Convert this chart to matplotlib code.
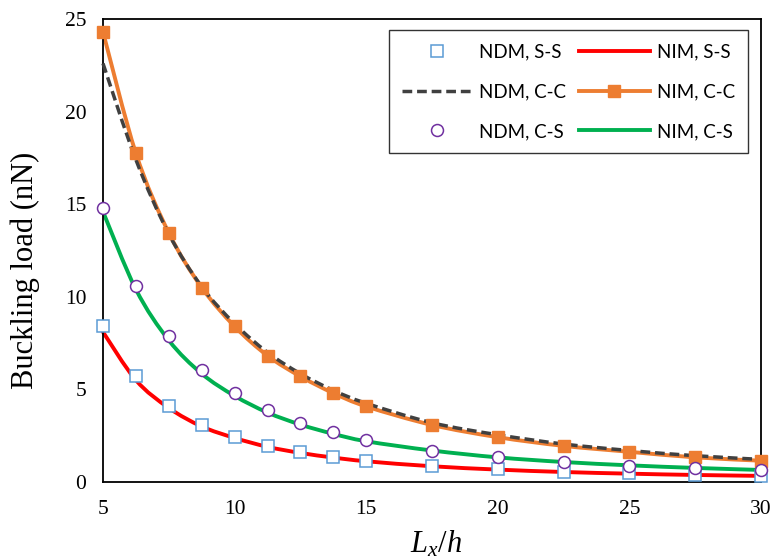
import numpy as np
import matplotlib
matplotlib.use("Agg")
import matplotlib.pyplot as plt
from matplotlib.path import Path
from matplotlib.patches import PathPatch
from matplotlib.lines import Line2D

plt.rcParams['mathtext.fontset'] = 'custom'
plt.rcParams['mathtext.it'] = 'Liberation Serif:italic'
plt.rcParams['mathtext.rm'] = 'Liberation Serif'

# ---- data ----
lx_h = [5, 6.25, 7.5, 8.75, 10, 11.25, 12.5, 13.75, 15, 17.5, 20, 22.5, 25, 27.5, 30]
ndm_ss = [8.4, 5.75, 4.12, 3.1, 2.44, 1.93, 1.6, 1.33, 1.13, 0.86, 0.69, 0.56, 0.46, 0.38, 0.34]
nim_ss = [8.1, 5.5, 4.0, 3.0, 2.38, 1.9, 1.57, 1.32, 1.12, 0.85, 0.67, 0.54, 0.45, 0.38, 0.33]
ndm_cc = [22.6, 17.4, 13.4, 10.55, 8.55, 7.0, 5.85, 4.95, 4.25, 3.2, 2.55, 2.05, 1.7, 1.42, 1.22]
nim_cc = [24.3, 17.75, 13.45, 10.5, 8.4, 6.82, 5.7, 4.8, 4.08, 3.08, 2.42, 1.95, 1.63, 1.33, 1.15]
ndm_cs = [14.8, 10.6, 7.9, 6.05, 4.8, 3.88, 3.2, 2.68, 2.28, 1.7, 1.33, 1.1, 0.87, 0.75, 0.63]
nim_cs = [14.6, 10.4, 7.65, 5.85, 4.65, 3.75, 3.1, 2.6, 2.2, 1.7, 1.33, 1.08, 0.9, 0.76, 0.65]
x_ticks = [5, 10, 15, 20, 25, 30]
y_ticks = [0, 5, 10, 15, 20, 25]

fig = plt.figure(figsize=(7.74, 5.58), dpi=100)
ax = fig.add_axes([103/774, 1-482/558, (761-103)/774, (482-19)/558])


def smooth_path(x, y):
    """Excel-style smoothed line (cubic Bezier through points)."""
    x = np.asarray(x, float); y = np.asarray(y, float)
    n = len(x)
    verts = [(x[0], y[0])]
    codes = [Path.MOVETO]
    for i in range(n - 1):
        p0 = np.array([x[max(i-1, 0)], y[max(i-1, 0)]])
        p1 = np.array([x[i], y[i]])
        p2 = np.array([x[i+1], y[i+1]])
        p3 = np.array([x[min(i+2, n-1)], y[min(i+2, n-1)]])
        c1 = p1 + (p2 - p0) / 6.0
        c2 = p2 - (p3 - p1) / 6.0
        verts += [tuple(c1), tuple(c2), tuple(p2)]
        codes += [Path.CURVE4] * 3
    return Path(verts, codes)


def add_smooth(x, y, color, lw, ls='-', z=2, cap='round'):
    p = PathPatch(smooth_path(x, y), facecolor='none', edgecolor=color,
                  lw=lw, ls=ls, zorder=z, clip_on=False, capstyle=cap)
    ax.add_patch(p)


red = '#FF0000'
orange = '#ED7D31'
green = '#00B050'
dgray = '#404040'
blue = '#5B9BD5'
purple = '#7030A0'
dash = (0, (2.8, 1.4))

add_smooth(lx_h, nim_ss, red, 2.8, z=2)
add_smooth(lx_h, nim_cs, green, 2.8, z=2)
add_smooth(lx_h, nim_cc, orange, 2.8, z=2)
add_smooth(lx_h, ndm_cc, dgray, 2.5, ls=dash, z=3, cap='butt')
ax.plot(lx_h, nim_cc, ls='none', marker='s', ms=8.6, color=orange, zorder=4, clip_on=False)
ax.plot(lx_h, ndm_ss, ls='none', marker='s', ms=8.4, mfc='white', mec=blue, mew=1.1, zorder=5, clip_on=False)
ax.plot(lx_h, ndm_cs, ls='none', marker='o', ms=8.6, mfc='white', mec=purple, mew=1.1, zorder=5, clip_on=False)

ax.set_xlim(5, 30)
ax.set_ylim(0, 25)
ax.set_xticks(x_ticks)
ax.set_yticks(y_ticks)
ax.tick_params(length=0, labelsize=15.5)
ax.tick_params(axis='x', pad=13)
ax.tick_params(axis='y', pad=12)
for lab in ax.get_xticklabels() + ax.get_yticklabels():
    lab.set_fontfamily('Liberation Serif')
for s in ax.spines.values():
    s.set_linewidth(1.3)
    s.set_color('black')

ax.set_ylabel('Buckling load (nN)', fontfamily='Liberation Serif', fontsize=22)
ax.yaxis.set_label_coords(-0.095, 0.458)
ax.set_xlabel(r'$L_x/h$', fontsize=22)
ax.xaxis.set_label_coords(0.506, -0.100)

handles = [
    Line2D([], [], ls='none', marker='s', ms=8.4, mfc='white', mec=blue, mew=1.1),
    Line2D([], [], ls=dash, lw=2.5, color=dgray, dash_capstyle='butt'),
    Line2D([], [], ls='none', marker='o', ms=8.6, mfc='white', mec=purple, mew=1.1),
    Line2D([], [], lw=2.8, color=red),
    Line2D([], [], lw=2.8, color=orange, marker='s', ms=8.6),
    Line2D([], [], lw=2.8, color=green),
]
labels = ['NDM, S-S', 'NDM, C-C', 'NDM, C-S', 'NIM, S-S', 'NIM, C-C', 'NIM, C-S']
leg = ax.legend(handles, labels, ncol=2, loc='upper right', bbox_to_anchor=(0.980, 0.976),
                borderaxespad=0.0,
                prop={'family': 'Lato', 'size': 13.5}, frameon=True, fancybox=False,
                edgecolor='black', handlelength=3.75, handletextpad=0.37, columnspacing=0.7,
                labelspacing=1.22, borderpad=0.7)
leg.get_frame().set_linewidth(1.0)

fig.savefig('out.png', dpi=100)
